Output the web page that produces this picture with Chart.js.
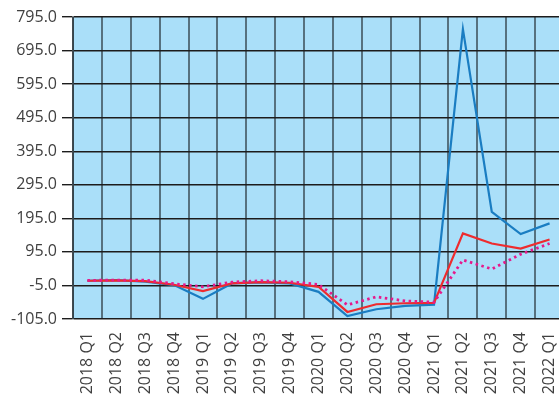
<!DOCTYPE html>
<html>
<head>
<meta charset="utf-8">
<script src="https://cdn.jsdelivr.net/npm/chart.js@4"></script>
<style>
  html, body { margin: 0; padding: 0; overflow: hidden; background: #fff; }
  canvas { display: block; }
</style>
</head>
<body>
<canvas id="myChart" width="566" height="400"></canvas>
<script>
const quarters = ["2018 Q1", "2018 Q2", "2018 Q3", "2018 Q4", "2019 Q1", "2019 Q2", "2019 Q3", "2019 Q4",
                  "2020 Q1", "2020 Q2", "2020 Q3", "2020 Q4", "2021 Q1", "2021 Q2", "2021 Q3", "2021 Q4", "2022 Q1"];
const blueValues    = [9, 11, 6, -4, -45, 1, 4, 1, -24, -96, -76, -66, -62, 759, 214, 148, 180];
const redValues     = [9, 10, 8, -3, -22, 1, 5, 3, -9, -84, -61, -58, -57, 150, 120, 105, 132];
const magentaValues = [10, 11, 11, 0, -9, 5, 9, 6, -2, -63, -39, -51, -55, 71, 44, 88, 120];
const yTicks = [-105, -5, 95, 195, 295, 395, 495, 595, 695, 795];

// light blue plot background
const plotBg = {
    id: 'plotBg',
    beforeDraw(chart) {
        const { ctx, chartArea: a } = chart;
        ctx.save();
        ctx.fillStyle = '#aadff9';
        ctx.fillRect(a.left, a.top, a.right - a.left, a.bottom - a.top);
        ctx.restore();
    }
};

Chart.defaults.font.family = "'Open Sans', sans-serif";
Chart.defaults.font.size = 16;
Chart.defaults.color = '#404040';

new Chart(document.getElementById('myChart'), {
    type: 'line',
    data: {
        labels: quarters,
        datasets: [
            {
                label: 'Blue',
                data: blueValues,
                borderColor: '#1a7dc2',
                borderWidth: 2.2,
                pointRadius: 0,
                order: 3
            },
            {
                label: 'Red',
                data: redValues,
                borderColor: '#ee2b2e',
                borderWidth: 2.2,
                pointRadius: 0,
                order: 2
            },
            {
                label: 'Magenta',
                data: magentaValues,
                borderColor: '#e6198c',
                borderWidth: 2.8,
                borderDash: [2.5, 3.5],
                pointRadius: 0,
                order: 1
            }
        ]
    },
    plugins: [plotBg],
    options: {
        responsive: false,
        animation: false,
        layout: { padding: { top: 17, right: 2, left: 0, bottom: 0 } },
        plugins: {
            legend: { display: false },
            tooltip: { enabled: false }
        },
        scales: {
            x: {
                offset: true,
                grid: {
                    offset: true,
                    color: 'rgba(30,40,45,0.6)',
                    lineWidth: 2,
                    drawTicks: false
                },
                border: { display: false },
                ticks: {
                    autoSkip: false,
                    minRotation: 90,
                    maxRotation: 90,
                    padding: 13
                },
                afterFit(axis) {
                    axis.height = 81;
                    axis.paddingLeft = 0;
                    axis.paddingRight = 0;
                }
            },
            y: {
                min: -105,
                max: 795,
                grid: {
                    color: '#1c1c1c',
                    lineWidth: 1.4,
                    tickLength: 11
                },
                border: { color: 'rgba(30,40,45,0.6)', width: 2 },
                ticks: {
                    padding: 5,
                    callback: v => Number(v).toFixed(1)
                },
                afterBuildTicks(axis) { axis.ticks = yTicks.map(v => ({ value: v })); },
                afterFit(axis) { axis.width = 73; }
            }
        }
    }
});
</script>
</body>
</html>
